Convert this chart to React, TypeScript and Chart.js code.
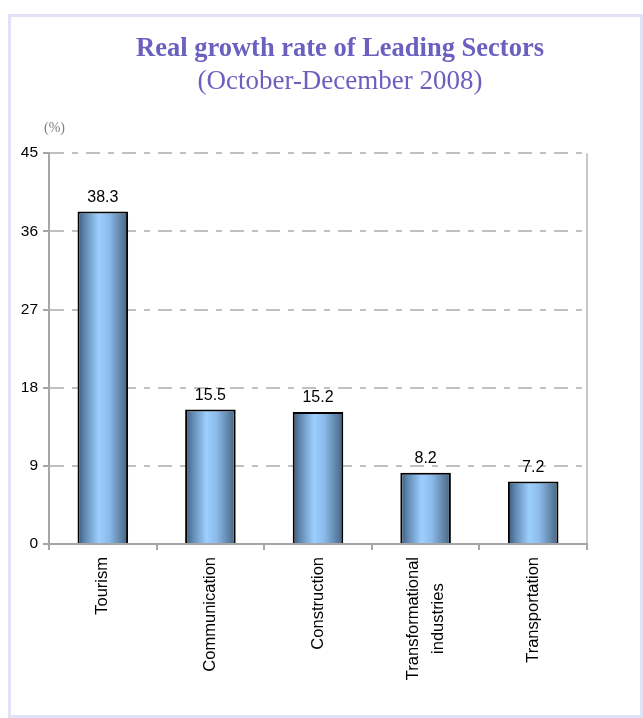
import React, { useEffect, useRef } from "react";
import { Chart, registerables } from "chart.js";

Chart.register(...registerables);

const categories: (string | string[])[] = [
  "Tourism",
  "Communication",
  "Construction",
  ["Transformational", "industries"],
  "Transportation",
];
const growthRates: number[] = [38.3, 15.5, 15.2, 8.2, 7.2];
const yTicks: number[] = [0, 9, 18, 27, 36, 45];
const titleText = "Real growth rate of Leading Sectors";
const subtitleText = "(October-December 2008)";
const unitText = "(%)";

const BAR_PCT = 0.47;

export default function App() {
  const ref = useRef<HTMLCanvasElement | null>(null);

  useEffect(() => {
    if (!ref.current) return;

    const extras = {
      id: "extras",
      afterLayout(chart: any) {
        // centre the title block over the framed panel rather than the plot
        (chart.boxes || []).forEach((b: any) => {
          if (b && b.position === "top" && b.options && b.options.text !== undefined) {
            b.left = 37;
            b.right = chart.width;
          }
        });
      },
      afterDraw(chart: any) {
        const ctx = chart.ctx;
        ctx.save();
        ctx.fillStyle = "#7f7f7f";
        ctx.font = "14px 'Liberation Serif'";
        ctx.textAlign = "left";
        ctx.textBaseline = "middle";
        ctx.fillText(unitText, 44, 128);
        ctx.restore();

        // category labels, rotated, multi-line blocks centred on the category
        const xs = chart.scales.x;
        ctx.save();
        ctx.fillStyle = "#000";
        ctx.font = "16.5px 'Liberation Sans'";
        categories.forEach((lab, i) => {
          const lines = Array.isArray(lab) ? lab : [lab];
          const px = xs.getPixelForValue(i);
          const W = Math.max(...lines.map((l) => ctx.measureText(l).width));
          const gap = 25;
          lines.forEach((l, j) => {
            const cx = px + (j - (lines.length - 1) / 2) * gap;
            ctx.save();
            ctx.translate(cx, xs.top + 13);
            ctx.rotate(-Math.PI / 2);
            ctx.textAlign = "center";
            ctx.textBaseline = "middle";
            ctx.fillText(l, -W / 2, 0);
            ctx.restore();
          });
        });
        ctx.restore();
      },
      afterDatasetsDraw(chart: any) {
        const ctx = chart.ctx;
        const meta = chart.getDatasetMeta(0);
        ctx.save();
        ctx.fillStyle = "#000";
        ctx.font = "16px 'Liberation Sans'";
        ctx.textAlign = "center";
        ctx.textBaseline = "middle";
        meta.data.forEach((el: any, i: number) => {
          ctx.fillText(String(growthRates[i]), el.x, el.y - 14);
        });
        ctx.restore();
      },
    };

    const chart = new Chart(ref.current, {
      type: "bar",
      data: {
        labels: categories,
        datasets: [
          {
            data: growthRates,
            borderColor: "#000000",
            borderWidth: 2,
            borderSkipped: "bottom",
            categoryPercentage: 1,
            barPercentage: BAR_PCT,
            backgroundColor: (c: any) => {
              const ch = c.chart;
              const xs = ch.scales && ch.scales.x;
              if (!xs || c.dataIndex === undefined) return "#99ccff";
              const cw = (xs.right - xs.left) / categories.length;
              const cx = xs.getPixelForValue(c.dataIndex);
              const half = (cw * BAR_PCT) / 2;
              if (!Number.isFinite(cx) || !Number.isFinite(half) || half <= 0) return "#99ccff";
              const g = ch.ctx.createLinearGradient(cx - half, 0, cx + half, 0);
              g.addColorStop(0, "#3c5878");
              g.addColorStop(0.15, "#6189b2");
              g.addColorStop(0.42, "#9ccfff");
              g.addColorStop(0.62, "#8cbbea");
              g.addColorStop(1, "#45627f");
              return g;
            },
          },
        ],
      },
      options: {
        responsive: false,
        animation: false,
        layout: { padding: { left: 0, right: 0, top: 0, bottom: 0 } },
        plugins: {
          legend: { display: false },
          tooltip: { enabled: false },
          title: {
            display: true,
            text: titleText,
            color: "#6b5fbf",
            font: { family: "'Liberation Serif'", size: 26.5, weight: "bold" },
            padding: { top: 33, bottom: 0 },
          },
          subtitle: {
            display: true,
            text: subtitleText,
            color: "#6b5fbf",
            font: { family: "'Liberation Serif'", size: 27, weight: "normal" },
            padding: { top: 1, bottom: 55 },
          },
        },
        scales: {
          x: {
            afterFit: (s: any) => {
              s.height = 174;
            },
            border: { display: true, color: "#a6a6a6", width: 2 },
            grid: {
              offset: true,
              drawOnChartArea: true,
              color: (c: any) => (c.type === "scale" ? "#c8c8c8" : "rgba(0,0,0,0)"),
              lineWidth: 2,
              tickColor: "#a6a6a6",
              tickWidth: 2,
              tickLength: 6,
            },
            ticks: { display: false },
          },
          y: {
            min: 0,
            max: 45,
            afterFit: (s: any) => {
              s.width = 49;
            },
            afterBuildTicks: (s: any) => {
              s.ticks = yTicks.map((v) => ({ value: v }));
            },
            border: { display: true, color: "#a6a6a6", width: 2, dash: [14, 8, 6, 8] },
            grid: {
              color: "#c0c0c0",
              lineWidth: 2,
              tickColor: "#a6a6a6",
              tickWidth: 2,
              tickLength: 6,
              tickBorderDash: [],
            },
            ticks: {
              padding: 5,
              color: "#000000",
              font: { family: "'Liberation Sans'", size: 15.5 },
            },
          },
          yRightSpace: {
            type: "linear",
            position: "right",
            display: true,
            afterFit: (s: any) => {
              s.width = 56;
            },
            grid: { display: false, drawTicks: false },
            border: { display: false },
            ticks: { display: false },
          },
        },
      },
      plugins: [extras],
    } as any);

    return () => chart.destroy();
  }, []);

  return (
    <div style={{ position: "absolute", left: 0, top: 0, width: 643, height: 718, background: "#fff" }}>
      <div
        style={{
          position: "absolute",
          left: 8,
          top: 14,
          width: 635,
          height: 704,
          boxSizing: "border-box",
          border: "3px solid #e1e1f7",
        }}
      />
      <canvas ref={ref} width={643} height={718} style={{ position: "absolute", left: 0, top: 0 }} />
    </div>
  );
}
